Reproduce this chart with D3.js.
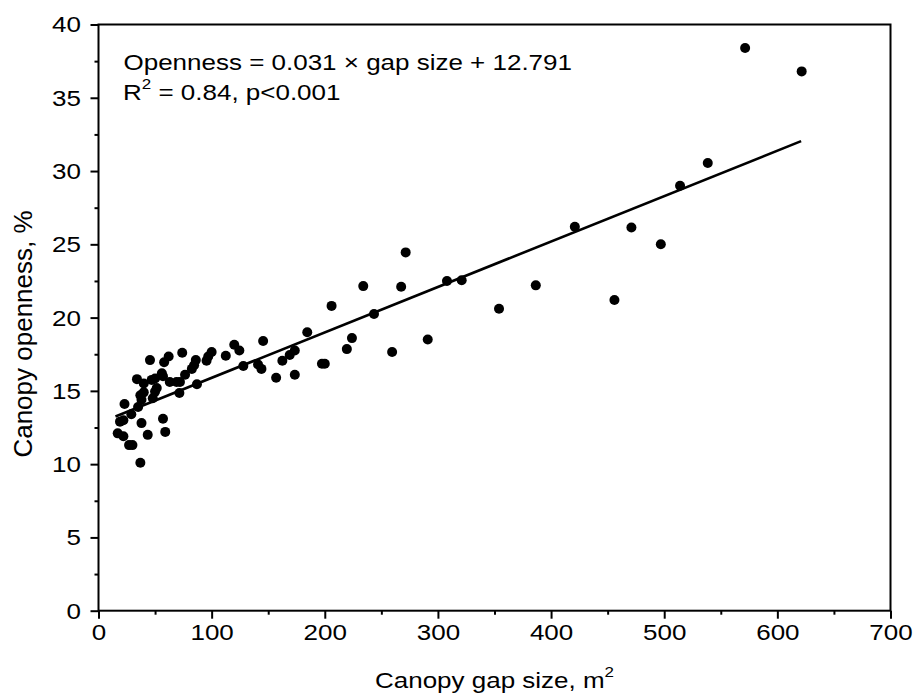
<!DOCTYPE html>
<html>
<head>
<meta charset="utf-8">
<script src="https://cdn.jsdelivr.net/npm/d3@7"></script>
<style>
  body { margin: 0; background: #fff; }
  svg { font-family: "Liberation Sans", Arial, sans-serif; }
</style>
</head>
<body>
<svg id="chart" width="915" height="693"></svg>
<script>
// values
const gapSize = [17, 22, 19, 22, 23, 27, 30, 29, 35, 37, 38, 43.5, 57, 59, 37, 38, 40, 48, 34, 40,
  47, 50, 51.5, 50, 56, 57, 63, 69, 72, 76.5, 71.5, 87, 45.5, 58, 62, 74, 82.5, 84.5, 86, 95.5,
  97, 100, 112.5, 120, 124.5, 128, 141, 144, 145.5, 157, 162.5, 169, 173.5, 173.5, 184.5, 197.5, 200, 206, 219.5, 224,
  234, 243.5, 259.5, 267.5, 271.5, 291, 308, 321, 354, 386.5, 421, 456, 471, 497, 514, 538.5, 571.5, 621.5];
const openness = [12.1, 11.9, 12.9, 13.0, 14.1, 11.3, 11.3, 13.4, 13.9, 10.1, 12.8, 12.0, 13.1, 12.2, 14.7, 14.4, 14.9, 14.5, 15.8, 15.5,
  15.75, 15.85, 15.2, 14.95, 16.2, 16.0, 15.6, 15.6, 15.6, 16.1, 14.85, 15.45, 17.1, 16.95, 17.35, 17.6, 16.5, 16.75, 17.1, 17.05,
  17.35, 17.65, 17.4, 18.15, 17.75, 16.7, 16.8, 16.5, 18.4, 15.9, 17.05, 17.45, 17.75, 16.1, 19.0, 16.85, 16.85, 20.8, 17.85, 18.6,
  22.15, 20.25, 17.65, 22.1, 24.45, 18.5, 22.5, 22.55, 20.6, 22.2, 26.2, 21.2, 26.15, 25.0, 29.0, 30.55, 38.4, 36.8];

const fitSlope = 0.031;
const fitIntercept = 12.791;
const fitRange = [15, 621];

const xTicks = [0, 100, 200, 300, 400, 500, 600, 700];
const xMinor = [50, 150, 250, 350, 450, 550, 650];
const yTicks = [0, 5, 10, 15, 20, 25, 30, 35, 40];
const yMinor = [2.5, 7.5, 12.5, 17.5, 22.5, 27.5, 32.5, 37.5];

const svg = d3.select("#chart");
const W = 915, H = 693;
const margin = { top: 24.5, right: 24.5, bottom: 82.3, left: 98.5 };
// text in the picture is a bit flattened vertically
const tickSquash = 0.82;
const textSquash = 0.88;

const x = d3.scaleLinear().domain([0, 700]).range([margin.left, W - margin.right]);
const y = d3.scaleLinear().domain([0, 40]).range([H - margin.bottom, margin.top]);

// minor ticks
svg.append("g")
  .attr("transform", `translate(0,${y(0)})`)
  .call(d3.axisBottom(x).tickValues(xMinor).tickSize(4).tickFormat(""))
  .call(g => g.select(".domain").remove());
svg.append("g")
  .attr("transform", `translate(${x(0)},0)`)
  .call(d3.axisLeft(y).tickValues(yMinor).tickSize(4).tickFormat(""))
  .call(g => g.select(".domain").remove());

// major ticks
const xAxis = svg.append("g")
  .attr("transform", `translate(0,${y(0)})`)
  .call(d3.axisBottom(x).tickValues(xTicks).tickSize(8).tickSizeOuter(0))
  .call(g => g.select(".domain").remove());
xAxis.selectAll("text")
  .attr("y", 0).attr("dy", null)
  .attr("transform", `translate(0,29.5) scale(1,${tickSquash})`);

const yAxis = svg.append("g")
  .attr("transform", `translate(${x(0)},0)`)
  .call(d3.axisLeft(y).tickValues(yTicks).tickSize(8).tickSizeOuter(0))
  .call(g => g.select(".domain").remove());
yAxis.selectAll("text")
  .attr("x", 0).attr("dy", null)
  .attr("transform", `translate(-17.5,7.4) scale(1,${tickSquash})`);

svg.selectAll(".tick line").attr("stroke", "#000").attr("stroke-width", 2);
svg.selectAll(".tick text")
  .attr("fill", "#000")
  .style("font-size", "26px")
  .style("font-family", "'Liberation Sans', Arial, sans-serif");

// frame
svg.append("rect")
  .attr("x", x(0))
  .attr("y", y(40))
  .attr("width", x(700) - x(0))
  .attr("height", y(0) - y(40))
  .attr("fill", "none")
  .attr("stroke", "#000")
  .attr("stroke-width", 2);

// regression line
svg.append("line")
  .attr("x1", x(fitRange[0]))
  .attr("y1", y(fitSlope * fitRange[0] + fitIntercept))
  .attr("x2", x(fitRange[1]))
  .attr("y2", y(fitSlope * fitRange[1] + fitIntercept))
  .attr("stroke", "#000")
  .attr("stroke-width", 2.6);

// points
svg.append("g")
  .selectAll("circle")
  .data(gapSize.map((g, i) => [g, openness[i]]))
  .join("circle")
  .attr("cx", d => x(d[0]))
  .attr("cy", d => y(d[1]))
  .attr("r", 5)
  .attr("fill", "#000");

// annotation
svg.append("text")
  .attr("transform", `translate(123.5,69.5) scale(1,${textSquash})`)
  .style("font-size", "26px")
  .text("Openness = 0.031 \u00d7 gap size + 12.791");

const note2 = svg.append("text")
  .attr("transform", `translate(123,100) scale(1,${textSquash})`)
  .style("font-size", "26px");
note2.append("tspan").text("R");
note2.append("tspan").attr("dy", -12).style("font-size", "17px").text("2");
note2.append("tspan").attr("dy", 12).text(" = 0.84, p<0.001");

// axis titles
const xTitle = svg.append("text")
  .attr("transform", `translate(${(x(0) + x(700)) / 2},688) scale(1,${textSquash})`)
  .attr("text-anchor", "middle")
  .style("font-size", "26px");
xTitle.append("tspan").text("Canopy gap size, m");
xTitle.append("tspan").attr("dy", -12).style("font-size", "17px").text("2");

svg.append("text")
  .attr("transform", "translate(31.5,334) rotate(-90)")
  .attr("text-anchor", "middle")
  .style("font-size", "26px")
  .text("Canopy openness, %");
</script>
</body>
</html>
